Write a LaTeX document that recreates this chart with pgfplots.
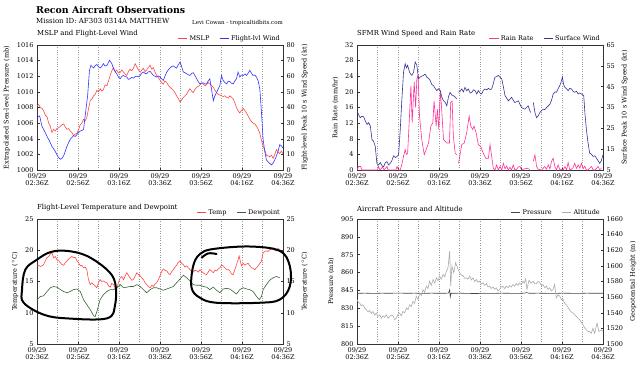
\documentclass[border=0pt]{standalone}
\usepackage{pgfplots}
\pgfplotsset{compat=1.18}
\usepackage{fontspec}
\setmainfont{DejaVu Serif}
\definecolor{mslpc}{HTML}{FF4444}
\definecolor{fltc}{HTML}{3333FF}
\definecolor{rainc}{HTML}{FF3399}
\definecolor{sfcc}{HTML}{333399}
\definecolor{tempc}{HTML}{FF4444}
\definecolor{dewc}{HTML}{336633}
\definecolor{presc}{HTML}{444444}
\definecolor{altc}{HTML}{AAAAAA}
\newcommand{\tfont}{\fontsize{6.9}{8}\selectfont}
\newcommand{\sfont}{\fontsize{6.5}{7.3}\selectfont}
\pgfplotsset{
  base/.style={scale only axis, width=246pt, height=125pt, xmin=0, xmax=120,
    axis line style={draw=black!80, line width=0.9pt},
    tick style={black!80, line width=0.5pt}, major tick length=2.5pt, minor tick length=0pt,
    ticklabel style={font=\sfont},
    /pgf/number format/assume math mode=true,
    /pgf/number format/set thousands separator={},
    label style={font=\sfont},
    every axis plot/.append style={line width=0.6pt, mark=none},
    title style={at={(0,1)}, anchor=south west, font=\tfont, inner sep=1.5pt, xshift=-1.5pt},
    legend style={at={(1,1)}, anchor=south east, draw=none, fill=none, legend columns=2,
      font=\sfont, inner sep=1pt, /tikz/every even column/.append style={column sep=8pt}},
    legend image code/.code={\draw[#1, line width=0.6pt] (0,0) -- (0.32cm,0);},
    unbounded coords=jump},
  leftax/.style={base, xtick={0,20,...,120}, minor xtick={10,30,...,110},
    xticklabels={{09/29\\02:36Z},{09/29\\02:56Z},{09/29\\03:16Z},{09/29\\03:36Z},{09/29\\03:56Z},{09/29\\04:16Z},{09/29\\04:36Z}},
    xticklabel style={align=center}, xmajorgrids, xminorgrids,
    grid style={dotted, black!40, line width=0.45pt},
    ytick pos=left, xtick pos=bottom},
  rightax/.style={base, axis x line=none, axis y line*=right, ytick pos=right}
}
\begin{document}
\begin{tikzpicture}
\useasboundingbox (0,0) rectangle (640pt,368pt);
\node[anchor=base west, inner sep=0pt, font=\fontsize{9.4}{11}\bfseries\selectfont] at (36pt,354.7pt) {Recon Aircraft Observations};
\node[anchor=base west, inner sep=0pt, font=\fontsize{7}{8}\selectfont] at (36pt,344.3pt) {Mission ID: AF303 0314A MATTHEW};
\node[anchor=base east, inner sep=0pt, font=\fontsize{5.5}{6.5}\selectfont] at (283pt,343.5pt) {Levi Cowan - tropicaltidbits.com};

% ---------- Panel 1
\begin{axis}[leftax, at={(37pt,198pt)}, ymin=1000, ymax=1016, ytick={1000,1002,...,1016},
  ylabel={Extrapolated Sea-level Pressure (mb)}, title={MSLP and Flight-Level Wind}]
\addplot[mslpc] coordinates {(0,1008.2) (0.8,1008.4) (1.6,1008.0) (2.4,1007.9) (3.2,1007.6) (4.1,1007.0) (4.9,1006.8) (5.7,1006.0) (6.5,1005.6) (7.3,1004.8) (8.1,1005.2) (8.9,1005.0) (9.7,1005.3) (10.5,1005.4) (11.4,1005.6) (12.2,1005.8) (13.0,1005.9) (13.8,1005.5) (14.6,1005.2) (15.4,1005.3) (16.2,1005.0) (17.0,1004.8) (17.8,1004.4) (18.7,1004.6) (19.5,1004.7) (20.3,1005.2) (21.1,1005.8) (21.9,1006.0) (22.7,1006.5) (23.5,1006.3) (24.3,1006.7) (25.1,1007.8) (26.0,1008.9) (26.8,1009.1) (27.6,1009.5) (28.4,1009.7) (29.2,1010.2) (30.0,1010.0) (30.8,1010.4) (31.6,1010.1) (32.4,1010.3) (33.2,1010.9) (34.1,1010.8) (34.9,1011.4) (35.7,1012.1) (36.5,1012.7) (37.3,1013.1) (38.1,1012.6) (38.9,1012.8) (39.7,1012.4) (40.6,1012.5) (41.4,1012.8) (42.2,1012.5) (43.0,1012.3) (43.8,1012.1) (44.6,1012.6) (45.4,1012.9) (46.2,1012.7) (47.0,1013.0) (47.9,1013.6) (48.7,1013.2) (49.5,1012.8) (50.3,1012.5) (51.1,1012.8) (51.9,1013.0) (52.7,1012.6) (53.5,1012.8) (54.3,1013.1) (55.2,1013.4) (56.0,1012.9) (56.8,1013.1) (57.6,1012.5) (58.4,1012.1) (59.2,1011.8) (60.0,1011.5) (60.8,1011.2) (61.6,1011.0) (62.4,1011.4) (63.3,1011.2) (64.1,1010.8) (64.9,1010.6) (65.7,1010.4) (66.5,1010.2) (67.3,1009.9) (68.1,1009.5) (69.0,1009.1) (69.8,1008.7) (70.6,1009.0) (71.4,1009.3) (72.2,1009.5) (73.0,1009.7) (73.8,1010.1) (74.6,1010.4) (75.4,1010.1) (76.2,1009.9) (77.0,1010.3) (77.9,1010.6) (78.7,1010.7) (79.5,1010.9) (80.3,1011.1) (81.1,1011.0) (81.9,1010.8) (82.7,1010.9) (83.5,1011.2) (84.3,1011.0) (85.1,1010.8) (86.0,1010.6) (86.8,1010.2) (87.6,1009.9) (88.4,1009.7) (89.2,1009.6) (90.0,1009.5) (90.8,1009.4) (91.6,1009.5) (92.5,1009.3) (93.3,1009.2) (94.1,1009.5) (94.9,1009.3) (95.7,1009.1) (96.5,1008.6) (97.3,1008.0) (98.1,1007.6) (98.9,1007.3) (99.7,1007.6) (100.6,1007.9) (101.4,1007.6) (102.2,1007.3) (103.0,1006.9) (103.8,1006.5) (104.6,1006.2) (105.4,1006.0) (106.2,1005.9) (107.1,1005.6) (107.9,1005.2) (108.7,1004.7) (109.5,1003.8) (110.3,1003.0) (111.1,1002.6) (111.9,1001.9) (112.7,1001.8) (113.5,1001.7) (114.3,1001.9) (115.2,1001.5) (116.0,1002.0) (116.8,1002.6) (117.6,1002.3) (118.4,1002.1) (119.2,1002.4) (120,1002.1)};
\addlegendentry{MSLP}
\addlegendimage{fltc}
\addlegendentry{Flight-lvl Wind}
\end{axis}
\begin{axis}[rightax, at={(37pt,198pt)}, ymin=0, ymax=80, ytick={0,10,...,80},
  ylabel={Flight-level Peak 10 s Wind Speed (kt)}]
\addplot[fltc] coordinates {(0,33.5) (1.3,34.6) (2.4,28) (3.2,26) (4.1,23.8) (4.9,21.5) (5.7,19.5) (6.5,17.4) (7.3,15.1) (8.1,13.6) (8.9,11.9) (9.7,9.8) (10.5,8) (11.4,6.9) (12.2,7.5) (13.0,9.1) (13.8,12.0) (14.6,15.1) (15.4,17.5) (16.2,19.5) (17.0,20.8) (17.8,22) (18.7,21.5) (19.5,22.7) (20.3,24.0) (21.1,24.9) (21.9,25.3) (22.7,25.9) (23.5,34.6) (24.7,47.6) (25.6,63.8) (26.3,67) (27.0,66.0) (27.6,65.3) (28.4,66.8) (29.2,67.5) (30.0,66.0) (30.8,65.3) (31.6,66.4) (32.4,68.1) (33.2,66.5) (34.1,67) (34.7,68.5) (35.4,70.3) (36.0,69.0) (36.5,68.1) (37.3,64.9) (38.1,63.0) (38.9,61.6) (39.7,59.5) (40.6,58.4) (41.4,60.0) (42.2,60.5) (43.0,59.8) (43.8,59.5) (44.6,58.0) (45.4,58.4) (46.2,59.3) (47.0,58.8) (47.9,59.8) (48.7,60.1) (49.5,59.6) (50.3,60.5) (51.1,62.0) (51.9,62.7) (52.7,61.8) (53.5,61.6) (54.3,62.8) (55.2,63.1) (56.0,61.8) (56.8,60.5) (57.6,60.0) (58.4,59.5) (59.2,60.2) (60.0,59.5) (60.8,58.3) (61.6,57.3) (62.4,60.0) (63.3,62.7) (64.1,64.2) (64.9,65.3) (65.7,66.2) (66.5,66.6) (67.3,65.8) (68.1,65.3) (69.0,67.5) (69.8,69.2) (70.6,66.0) (71.4,62.7) (72.2,62.3) (73.0,61.6) (73.8,61.0) (74.6,60.5) (75.4,61.8) (76.2,62.3) (77.0,60.5) (77.9,58.4) (78.7,56.5) (79.5,55.1) (80.3,55.6) (81.1,55.8) (81.9,55.0) (82.7,55.1) (83.5,57.0) (84.3,58.4) (85.1,52.0) (86.0,44.3) (86.8,47.5) (87.6,49.7) (88.4,52.0) (89.2,54.1) (90.0,60.5) (90.8,57.3) (91.6,56.0) (92.5,55.1) (93.3,56.8) (94.1,56.6) (94.9,55.5) (95.7,55.1) (96.5,57.0) (97.3,58.4) (98.1,62.7) (98.9,59.5) (99.7,60.8) (100.6,60.5) (101.4,61.5) (102.2,60.5) (103.0,62.0) (103.8,63.8) (104.6,62.0) (105.4,60.5) (106.2,60.8) (107.1,59.5) (107.9,57.0) (108.7,51.9) (109.5,36.8) (110.3,19.5) (111.1,12.0) (111.9,6.5) (112.7,5.2) (113.5,4.3) (114.4,3.2) (115.2,4.5) (116.0,6.5) (116.8,9.0) (117.6,11.9) (118.4,16.2) (119.2,15.5) (120,14)};
\end{axis}

% ---------- Panel 2
\begin{axis}[leftax, at={(357pt,198pt)}, ymin=0, ymax=32, ytick={0,4,...,32},
  ylabel={Rain Rate (mm/hr)}, title={SFMR Wind Speed and Rain Rate}]
\addplot[rainc] coordinates {(0,0) (0.8,0.9) (1.8,0.9) (2.4,0) (10,0) (10.5,0.9) (11.2,0) (12.5,0.8) (13.2,0) (14.6,0.9) (15.2,0) (19.0,0) (19.5,0.9) (20.3,0) (21.1,0) (21.9,1.5) (22.7,3.5) (23.5,5.2) (24.1,4.0) (24.7,4.3) (25.6,13.8) (26.3,21.6) (26.9,12.1) (27.9,22.5) (28.6,16) (29.2,23.4) (29.8,24.2) (30.5,13.8) (31.6,7.8) (32.8,3.9) (33.7,5.2) (34.9,6.9) (36.0,11.2) (37.0,12.1) (37.6,17.7) (38.6,11.2) (39.2,15.6) (39.9,10.4) (40.6,20.3) (41.2,16.4) (42.2,7.8) (43.8,6.9) (45.1,6.9) (45.7,17.3) (46.4,17.7) (47.0,8.7) (47.9,4.3) (48.7,3.9) (49.1,nan) (49.5,1.7) (50.3,4.0) (51.1,6.5) (52.3,6.9) (53.5,9.5) (54.7,13.8) (55.5,11.2) (56.4,10.4) (57.1,11.2) (58.1,9.5) (59.2,6.5) (60.3,6.1) (61.6,4.3) (62.8,3) (64.1,3) (64.9,6.5) (65.7,3.5) (66.5,0.4) (67.3,0) (68.1,1.3) (68.9,0) (69.8,0.9) (70.6,0) (71.4,1.7) (72.2,0.3) (73.0,1) (73.8,0) (74.6,0.7) (75.4,0) (76.2,1.3) (77.0,0) (77.9,0.2) (78.7,0.8) (79.5,0.9) (80.3,0) (81.1,0.2) (82.7,0.4) (84.3,0.2) (85.1,nan) (86.0,2.2) (86.8,3.9) (87.6,0.9) (88.4,0.2) (90.0,0) (91.6,0.9) (92.4,0.2) (93.3,1.3) (94.1,0.3) (94.9,2.2) (95.7,3) (96.5,0.9) (97.3,0) (98.1,1.3) (99.0,0) (99.8,0.2) (100.6,0) (101.4,0.9) (102.2,0.1) (103.0,1.9) (103.8,0) (104.6,0.2) (105.4,0.6) (106.2,1.7) (107.1,0.4) (107.9,1.3) (108.7,0.5) (109.5,1.7) (110.3,0.3) (111.1,1) (111.9,0) (112.7,0) (113.5,0.5) (114.4,0.9) (115.2,0) (116.0,0) (116.8,0.4) (117.6,0.9) (118.4,0.1) (119.2,0.4)};
\addlegendentry{Rain Rate}
\addlegendimage{sfcc}
\addlegendentry{Surface Wind}
\end{axis}
\begin{axis}[rightax, at={(357pt,198pt)}, ymin=5, ymax=65, ytick={5,15,...,65},
  ylabel={Surface Peak 10 s Wind Speed (kt)}]
\addplot[sfcc] coordinates {(0,33.4) (0.8,31.5) (1.6,30.1) (2.4,30.8) (3.2,30.6) (4.1,28.5) (4.9,26.9) (5.7,27.7) (6.5,26.1) (7.3,19.6) (8.1,18.8) (8.9,16.4) (9.7,8.2) (10.5,7.4) (11.4,8.6) (12.2,7.0) (13.0,6.6) (13.8,8.5) (14.6,9) (15.4,7.5) (16.2,8.2) (17.0,9.5) (17.8,11.8) (18.7,11.0) (19.5,11.5) (20.3,12.3) (21.1,24.5) (21.9,39) (22.7,52) (23.5,56) (24.1,54.0) (24.7,55.3) (25.6,52) (26.2,51.0) (26.8,50.4) (27.6,52) (28.4,56.9) (29.2,55.3) (30.0,48.8) (30.8,49.6) (31.6,50.0) (32.4,50.4) (33.2,51.0) (34.1,49.6) (34.9,49.0) (35.7,48) (36.5,46.0) (37.3,45.5) (38.1,44.2) (38.9,43.1) (39.7,44.0) (40.6,43.1) (41.4,39.9) (42.2,38.2) (43.0,37.5) (43.8,35.8) (44.6,40.0) (45.4,42.3) (46.2,41.0) (47.0,40.7) (47.9,40.0) (48.7,39) (49.1,nan) (49.5,42.3) (50.3,42.8) (51.1,43.9) (51.9,42.5) (52.7,44.7) (53.5,43.0) (54.3,43.9) (55.2,42.0) (56.0,42.3) (56.8,43.5) (57.6,43.1) (58.4,41.5) (59.2,43.1) (60.0,42.0) (60.8,41.5) (61.6,43.2) (62.4,43.9) (63.3,43.5) (64.1,44.2) (64.9,43.6) (65.7,43.9) (66.5,46.5) (67.3,49.6) (68.1,49.8) (68.9,50.4) (69.8,49.5) (70.6,48.8) (71.4,45.0) (72.2,40.7) (73.0,39.5) (73.8,38.2) (74.6,39.0) (75.4,39.9) (76.2,38.5) (77.0,37.4) (77.9,37.8) (78.7,38.2) (79.5,36.5) (80.3,35) (81.1,34.5) (81.9,34.2) (82.7,35.0) (83.5,35.8) (84.1,34.0) (84.7,32.6) (85.3,nan) (86.0,37.4) (86.8,32.6) (87.6,30.1) (88.4,31.0) (89.2,32.6) (90.0,33.5) (90.8,34.2) (91.6,34.0) (92.5,35) (93.3,35.8) (94.1,36.6) (94.9,38.5) (95.7,41.5) (96.5,42.5) (97.3,42.3) (98.1,44.0) (98.9,45.5) (99.5,47.0) (100.2,49.6) (100.8,46.0) (101.4,44.7) (102.2,44.0) (103.0,43.1) (103.8,44.2) (104.6,43.9) (105.4,42.8) (106.2,42.3) (107.1,42.8) (107.9,41.5) (108.7,42.0) (109.5,41.5) (110.6,40.7) (111.2,32.0) (111.9,24.5) (112.7,18.0) (113.5,13.1) (114.4,12.5) (115.2,11.5) (116.0,11.8) (116.8,10.7) (117.6,9.5) (118.4,8.2) (119.2,9.5) (120,12.3)};
\end{axis}

% ---------- Panel 3
\begin{axis}[leftax, at={(37pt,24pt)}, ymin=5, ymax=25, ytick={5,10,...,25},
  ylabel={Temperature ($^\circ$C)}, title={Flight-Level Temperature and Dewpoint}]
\addplot[tempc] coordinates {(0,17.5) (0.8,17.6) (1.6,17.4) (2.4,17.5) (3.2,17.7) (4.1,18.3) (4.9,18.8) (5.7,19.0) (6.5,19.4) (7.3,19.6) (8.1,18.8) (8.9,19.0) (9.7,18.5) (10.5,18.4) (11.4,18) (12.2,17.7) (13.0,17.6) (13.8,18.0) (14.6,18.3) (15.4,18.6) (16.2,18.8) (17.0,19.0) (17.8,18.8) (18.7,18.9) (19.5,18.3) (20.3,18.0) (21.1,17.5) (21.9,17.6) (22.7,17.2) (23.5,17.3) (24.3,16.9) (25.1,15.3) (26.0,14.5) (26.8,14.8) (27.6,14.5) (28.4,14.3) (29.2,14) (30.0,14.8) (30.8,15.3) (31.6,15.0) (32.4,15.1) (33.2,14.9) (34.1,14.8) (34.9,14.3) (35.7,14.1) (36.5,14.7) (37.3,14.5) (38.1,14.0) (38.9,13.7) (39.7,14.8) (40.6,15.6) (41.4,15.8) (42.2,15.3) (43.0,15.9) (43.8,16.4) (44.6,16.0) (45.4,15.6) (46.2,15.2) (47.0,15.3) (47.9,15.9) (48.7,16.4) (49.5,16.1) (50.3,15.9) (51.1,15.6) (51.9,15.3) (52.7,14.8) (53.5,14.5) (54.3,14.2) (55.2,14) (56.0,14.4) (56.8,14.2) (57.6,14.6) (58.4,14.8) (59.2,15.3) (60.0,15.9) (60.8,16.6) (61.6,17) (62.4,16.8) (63.3,16.7) (64.1,16.3) (64.9,16.1) (65.7,16.6) (66.5,16.9) (67.3,17.3) (68.1,17.6) (69.0,18.1) (69.8,18.3) (70.6,17.9) (71.4,17.7) (72.2,17.3) (73.0,17.5) (73.8,17.2) (74.6,16.9) (75.4,16.6) (76.2,16.5) (77.0,16.8) (77.9,16.7) (78.7,16.5) (79.5,16.9) (80.3,16.6) (81.1,16.4) (81.9,16.2) (82.7,16.1) (83.5,16.5) (84.3,16.9) (85.1,16.7) (86.0,16.4) (86.8,16.8) (87.6,16.7) (88.4,17.0) (89.2,17.2) (90.0,17.6) (90.8,17.5) (91.6,17.2) (92.5,16.9) (93.3,16.9) (94.1,16.7) (94.9,16.2) (95.7,16.1) (96.5,16.9) (97.3,17.7) (98.0,18.4) (98.6,19.1) (99.2,18.2) (99.8,17.5) (100.6,17.9) (101.4,17.6) (102.2,17.8) (103.0,17.9) (103.8,17.5) (104.6,17.2) (105.4,17.1) (106.2,16.9) (107.1,17.2) (107.9,17.5) (108.7,17.9) (109.5,18.3) (110.3,19.6) (111.1,19.8) (111.9,19.9) (112.7,19.8) (113.5,20.1) (114.4,20.2) (115.2,20.4) (116.0,20.0) (116.8,19.9) (117.6,20.3) (118.4,20.1) (119.2,19.9) (120,19.7)};
\addlegendentry{Temp}
\addlegendimage{dewc}
\addlegendentry{Dewpoint}
\end{axis}
\begin{axis}[rightax, at={(37pt,24pt)}, ymin=5, ymax=25, ytick={5,10,...,25},
  ylabel={Temperature ($^\circ$C)}, clip=false]
\addplot[dewc] coordinates {(0,12.1) (1.6,12.6) (3.2,12.7) (4.9,13.4) (6.5,14) (8.1,14.2) (9.7,14.1) (11.4,13.7) (13.0,13.4) (14.6,13.2) (16.2,13.4) (17.8,13.7) (19.5,13.8) (21.1,13.4) (22.7,12.1) (24.3,11.3) (26.0,10.5) (27.6,9.5) (28.4,9.4) (29.2,10.2) (30.8,12.1) (32.4,12.9) (34.1,13.4) (35.7,13.7) (37.3,13.7) (38.9,14) (40.6,14.5) (42.2,14) (43.8,14.1) (45.4,14.2) (47.0,14.2) (48.7,14.5) (50.3,14.2) (51.9,13.7) (53.5,13.2) (55.2,13.7) (56.8,14) (58.4,14) (60.0,13.8) (61.6,13.6) (63.3,13.8) (64.9,14) (66.5,14.2) (68.1,14.8) (69.8,15.4) (71.4,16) (73.0,15.6) (74.6,15.1) (76.2,14.5) (77.9,14.4) (79.5,14.4) (81.1,14.2) (82.7,14.1) (84.3,13.7) (86.0,14.1) (87.6,13.6) (89.2,13.2) (90.8,13.8) (92.5,13.9) (94.1,13.8) (95.7,13.4) (97.3,13) (98.9,13.7) (100.6,14) (102.2,13.8) (103.8,13.7) (105.4,13.4) (107.1,12.6) (108.4,12.1) (109.5,12.6) (110.3,13.7) (111.9,14.5) (113.5,15.2) (115.2,15.6) (116.8,15.8) (118.4,15.6)};
\draw[black, line width=2pt, line cap=round] plot[smooth cycle, tension=0.6] coordinates {(axis cs:-7.3,13.7) (axis cs:-5.7,16.9) (axis cs:0,18.5) (axis cs:6.5,19.7) (axis cs:14.6,19.9) (axis cs:24.3,19.1) (axis cs:34.1,16.9) (axis cs:38.1,14.8) (axis cs:38.1,11.3) (axis cs:34.1,9.1) (axis cs:14.6,9.1) (axis cs:3.2,9.7) (axis cs:-6.5,11.6)};
\draw[black, line width=2pt, line cap=round] plot[smooth cycle, tension=0.6] coordinates {(axis cs:76.2,17.5) (axis cs:79.5,19.4) (axis cs:86,20.2) (axis cs:103.8,20.6) (axis cs:118.4,19.9) (axis cs:123.3,17.5) (axis cs:123.3,14.2) (axis cs:118.4,12.1) (axis cs:108.7,11.6) (axis cs:87.6,11.6) (axis cs:79.5,12.4) (axis cs:75.4,14)};
\draw[black, line width=2pt, line cap=round] plot[smooth, tension=0.6] coordinates {(axis cs:80.3,18.8) (axis cs:83.5,19.5) (axis cs:87.6,19.4)};
\end{axis}

% ---------- Panel 4
\begin{axis}[leftax, at={(357pt,24pt)}, ymin=800, ymax=905, ytick={800,815,...,905},
  ylabel={Pressure (mb)}, title={Aircraft Pressure and Altitude}]
\addplot[presc] coordinates {(0,842.6) (4,842.7) (8,842.5) (12,842.7) (16,842.6) (20,842.8) (24,842.6) (28,842.7) (32,842.5) (36,842.7) (40,842.6) (44.6,842.7) (45.2,845.5) (45.5,839.5) (45.9,842.6) (50,842.7) (54,842.5) (58,842.4) (62,842.6) (66,842.5) (70,842.7) (74,842.6) (78,842.5) (81.5,842.7) (82.9,843.2) (84,842.6) (88,842.7) (92,842.6) (96,842.5) (100,842.7) (104,842.6) (108,842.5) (112,842.7) (116,842.6) (120,842.6)};
\addlegendentry{Pressure}
\addlegendimage{altc}
\addlegendentry{Altitude}
\end{axis}
\begin{axis}[rightax, at={(357pt,24pt)}, ymin=1500, ymax=1660, ytick={1500,1520,...,1660},
  ylabel={Geopotential Height (m)}]
\addplot[altc] coordinates {(0,1556.8) (0.7,1553) (1.3,1552.5) (2.1,1549) (2.9,1550.3) (3.7,1546) (4.6,1543.9) (5.4,1541) (6.2,1543) (7.0,1539) (7.8,1541.7) (8.6,1537) (9.4,1539.6) (10.2,1535) (11.1,1537.4) (11.9,1533) (12.7,1536.1) (13.5,1534) (14.3,1537.4) (15.1,1533) (15.9,1535.3) (16.8,1537) (17.6,1536.1) (18.4,1531) (19.2,1533.1) (20.0,1538) (20.8,1539.6) (21.6,1536) (22.4,1541.7) (23.2,1540) (24.1,1546) (24.9,1544) (25.7,1550.3) (26.5,1548) (27.3,1554.6) (28.1,1552) (28.9,1561.1) (29.8,1557) (30.6,1565.4) (31.4,1562) (32.2,1569.7) (33.0,1566) (33.8,1574) (34.6,1571) (35.4,1580.4) (36.2,1575) (37.1,1582.6) (37.9,1578) (38.7,1584.7) (39.5,1581) (40.3,1586.9) (41.1,1583) (42.0,1589) (42.8,1586) (43.6,1593.3) (44.4,1597.6) (45.2,1619.1) (45.7,1574) (46.3,1599.8) (47.2,1591.2) (48.1,1604.1) (49.3,1595.5) (50.1,1591.2) (50.9,1588) (51.7,1587.7) (52.5,1584) (53.3,1584.7) (54.1,1583) (55.0,1586.9) (55.8,1582) (56.6,1584.7) (57.4,1580) (58.2,1582.6) (59.0,1579) (59.8,1580.4) (60.7,1577) (61.5,1578.3) (62.3,1575) (63.1,1577.4) (63.9,1573) (64.7,1574) (65.5,1571) (66.3,1573.1) (67.1,1570) (68.0,1571.8) (68.8,1568) (69.6,1569.7) (70.4,1573) (71.2,1574) (72.0,1571) (72.8,1574) (73.7,1572) (74.5,1574.8) (75.3,1573) (76.1,1576.1) (76.9,1574) (77.7,1577.4) (78.5,1575) (79.3,1578.3) (80.1,1576) (81.0,1580.4) (81.6,1578) (82.3,1583.4) (82.9,1569.7) (83.9,1581.7) (84.9,1578) (85.9,1580.4) (86.7,1577) (87.5,1577.4) (88.3,1580) (89.1,1579.1) (89.9,1575) (90.7,1576.1) (91.6,1572) (92.4,1574) (93.2,1570) (94.0,1571.8) (94.8,1568) (95.6,1569.7) (96.4,1576.1) (97.2,1558.9) (98.1,1563) (98.9,1561.1) (99.7,1557) (100.5,1556.8) (101.3,1552) (102.1,1550.3) (102.9,1547) (103.7,1543.9) (104.5,1541) (105.4,1539.6) (106.2,1537) (107.0,1535.3) (107.8,1533) (108.6,1531) (109.4,1528) (110.2,1524.5) (111.0,1521) (111.9,1518.1) (112.7,1516) (113.5,1515.9) (114.3,1513.8) (115.1,1520.2) (115.9,1513.8) (117.1,1526.7) (118.0,1515.9) (119.2,1518.1) (120,1515.9)};
\end{axis}
\end{tikzpicture}
\end{document}
